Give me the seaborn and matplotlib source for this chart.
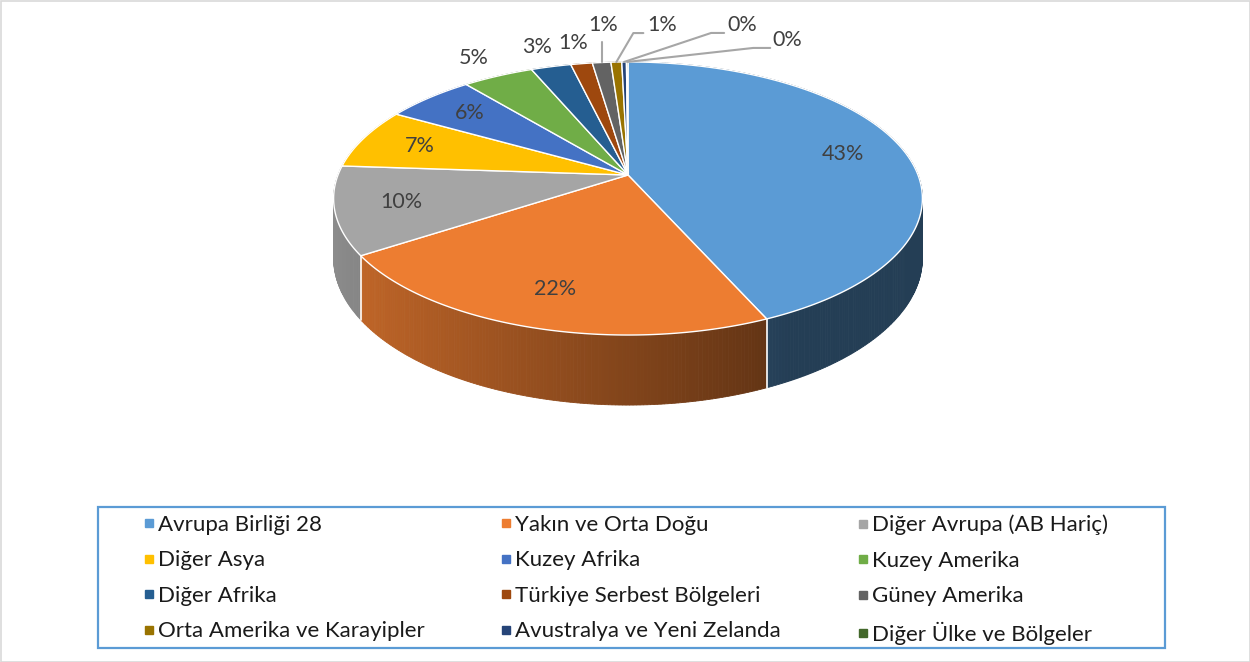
import numpy as np
import matplotlib.pyplot as plt
import seaborn as sns
from matplotlib.patches import Polygon, Rectangle
from matplotlib.lines import Line2D
from matplotlib.colors import to_rgb

sns.set_theme(style="white")
plt.rcParams['font.family'] = ['Lato', 'DejaVu Sans']

# veriler (okunan paylar, %)
regions = ['Avrupa Birliği 28', 'Yakın ve Orta Doğu', 'Diğer Avrupa (AB Hariç)',
           'Diğer Asya', 'Kuzey Afrika', 'Kuzey Amerika',
           'Diğer Afrika', 'Türkiye Serbest Bölgeleri', 'Güney Amerika',
           'Orta Amerika ve Karayipler', 'Avustralya ve Yeni Zelanda', 'Diğer Ülke ve Bölgeler']
shares = [43.4, 22.3, 10.4, 7.2, 5.8, 4.6, 2.6, 1.4, 1.2, 0.7, 0.3, 0.1]
colors = ['#5B9BD5', '#ED7D31', '#A5A5A5', '#FFC000', '#4472C4', '#70AD47',
          '#255E91', '#9E480E', '#636363', '#997300', '#264478', '#43682B']

# 3B pasta geometrisi (piksel)
CX, CY = 628, 175
A, B, P, D = 290, 132.5, 0.172, 58


def proj(phi, r=1.0, z=0.0):
    u = r * np.sin(phi)
    v = r * np.cos(phi)
    s = 1.0 / (1.0 + P * v)
    return CX + A * u * s, CY - B * v * s + D * z * s


def shade(phi):
    u = np.sin(phi)
    return float(np.clip(0.86 - 0.313 * (u + 1), 0.40, 0.86))


fig = plt.figure(figsize=(12.5, 6.62), dpi=100)
ax = fig.add_axes([0, 0, 1, 1])
ax.set_xlim(0, 1250)
ax.set_ylim(662, 0)
ax.axis('off')

frac = np.array(shares) / np.sum(shares)
edges = np.concatenate([[0], np.cumsum(frac)]) * 2 * np.pi

# yan yüzeyler
segs = []
for i in range(len(shares)):
    t0, t1 = edges[i], edges[i + 1]
    n = max(2, int((t1 - t0) / 0.01))
    ts = np.linspace(t0, t1, n + 1)
    for a0, a1 in zip(ts[:-1], ts[1:]):
        m = 0.5 * (a0 + a1)
        segs.append((np.cos(m), a0, a1, i))
segs.sort(key=lambda s: -s[0])
for v, a0, a1, i in segs:
    pts = [proj(a0, 1, 0), proj(a1, 1, 0), proj(a1, 1, 1), proj(a0, 1, 1)]
    c = np.array(to_rgb(colors[i])) * shade(0.5 * (a0 + a1))
    ax.add_patch(Polygon(pts, closed=True, facecolor=c, edgecolor=c, lw=0.6, zorder=1))

# yan yüzeydeki dilim sınırları
for t in edges[:-1]:
    if np.cos(t) < 0:
        x0, y0 = proj(t, 1, 0)
        x1, y1 = proj(t, 1, 1)
        ax.plot([x0, x1], [y0, y1], color='white', lw=1.2, zorder=2)

# üst yüzey
for i in range(len(shares)):
    t0, t1 = edges[i], edges[i + 1]
    ts = np.linspace(t0, t1, max(3, int((t1 - t0) / 0.005)))
    pts = [(CX, CY)] + [proj(t) for t in ts]
    ax.add_patch(Polygon(pts, closed=True, facecolor=colors[i], edgecolor='white',
                         lw=1.0, joinstyle='round', zorder=3))

# veri etiketleri
pct = [f"{round(s)}%" for s in shares]
mids = 0.5 * (edges[:-1] + edges[1:])
lab_kw = dict(color='#404040', fontsize=15.5, ha='center', va='center', zorder=5)
for i in range(5):
    x, y = proj(mids[i], 0.78)
    ax.text(x, y, pct[i], **lab_kw)
for i in range(5, 8):
    x, y = proj(mids[i], 1.22)
    ax.text(x, y, pct[i], **lab_kw)

leader_paths = [[(0, -20)], [(17, -29), (27, -29)], [(87, -29), (100, -29)], [(126, -14), (143, -14)]]
leader_text = [(2, -37), (46, -37), (118, -37), (160, -22)]
for k, i in enumerate(range(8, 12)):
    x, y = proj(mids[i], 1.0)
    xs = [x] + [x + dx for dx, dy in leader_paths[k]]
    ys = [y] + [y + dy for dx, dy in leader_paths[k]]
    ax.plot(xs, ys, color='#A6A6A6', lw=1.5, zorder=4)
    tx, ty = leader_text[k]
    ax.text(x + tx, y + ty, pct[i], **lab_kw)

# çerçeveler
ax.add_patch(Rectangle((0.5, 0.5), 1249, 661, fill=False, edgecolor='#D9D9D9', lw=1.2, zorder=6))
ax.add_patch(Rectangle((98, 507), 1067, 141, fill=False, edgecolor='#5B9BD5', lw=1.6, zorder=6))

# lejant: 3 sütun, satır sırası
col_x = [125, 482, 839]
for j in range(3):
    idx = [r * 3 + j for r in range(4)]
    hs = [Line2D([], [], marker='s', ms=5.5, ls='none', color=colors[k]) for k in idx]
    leg = ax.legend(hs, [regions[k] for k in idx], loc='upper left',
                    bbox_to_anchor=(col_x[j], 497), bbox_transform=ax.transData,
                    frameon=False, fontsize=16, handlelength=0.6, handletextpad=0.1,
                    labelspacing=0.7, borderpad=0.3, labelcolor='#1A1A1A')
    if j < 2:
        ax.add_artist(leg)

fig.savefig('out.png', dpi=100, facecolor='white')
